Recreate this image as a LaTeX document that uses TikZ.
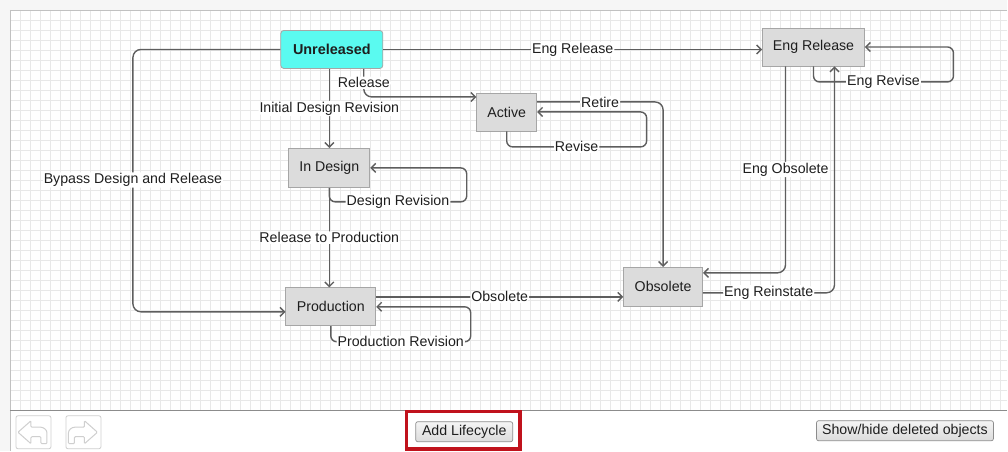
\documentclass[tikz,border=0pt]{standalone}
\usepackage{fontspec}
\setmainfont{Liberation Sans}
\usetikzlibrary{arrows.meta, positioning, calc}
\definecolor{pagegray}{HTML}{F6F6F6}
\definecolor{gridgray}{HTML}{E8E8E8}
\definecolor{edgegray}{HTML}{5E5E5E}
\definecolor{boxfill}{HTML}{DCDCDC}
\definecolor{boxline}{HTML}{A6A6A6}
\definecolor{unrelcyan}{HTML}{5AFAF0}
\definecolor{txtdark}{HTML}{1E1E1E}
\definecolor{hilite}{HTML}{C0121C}
\definecolor{btnline}{HTML}{8C8C8C}
\definecolor{iconline}{HTML}{CFCFCF}
\newcommand\uifont{\fontsize{14.2}{16}\selectfont}
\newcommand\undoshape{(18,432.5) -- (31,421) -- (31,427.5) -- (40,427.5)
  to[out=0,in=90] (47,434) -- (47,444) -- (41,444) -- (41,437) -- (31,437) -- (31,444) -- cycle}

\begin{document}
\begin{tikzpicture}[x=1pt, y=-1pt, >={Straight Barb[length=4.5pt, width=9pt]},
  state/.style={draw=boxline, fill=boxfill, line width=0.8pt, minimum height=38pt,
    inner sep=0pt, font=\uifont, text=txtdark},
  trans/.style={draw=edgegray, line width=1.4pt, ->, rounded corners=6pt},
  lbl/.style={fill=white, inner sep=1pt, font=\uifont, text=txtdark},
  btn/.style={draw=btnline, line width=0.7pt, rounded corners=2pt, top color=white!96!black,
    bottom color=white!86!black, minimum height=20pt, inner sep=0pt, font=\uifont, text=txtdark},
  iconbox/.style={draw=iconline, line width=0.8pt, rounded corners=2pt, minimum width=35pt,
    minimum height=33pt, inner sep=0pt}]

% Page, canvas and grid
\fill[pagegray] (0,0) rectangle (1008,451);
\fill[white] (10,10) rectangle (1008,451);
\foreach \gx in {11,21,...,1001}
  \draw[gridgray, line width=1pt] (\gx,10) -- (\gx,410);
\foreach \gy in {11,21,...,401}
  \draw[gridgray, line width=1pt] (10,\gy) -- (1008,\gy);
\draw[boxline!70, line width=1pt] (10.5,451) -- (10.5,10.5) -- (1008,10.5);
\draw[btnline, line width=1.2pt] (10,410.5) -- (1008,410.5);

% States
\node[state, fill=unrelcyan, rounded corners=3pt, minimum width=102pt,
  font=\fontsize{14.4}{16}\selectfont\bfseries] (unrel) at (332,49.5) {Unreleased};
\node[state, minimum width=102pt] (engrel) at (814,47) {Eng Release};
\node[state, minimum width=60pt] (active) at (507,112) {Active};
\node[state, minimum width=81pt, minimum height=39pt] (indesign) at (329.5,168) {In Design};
\node[state, minimum width=90pt] (production) at (331,307) {Production};
\node[state, minimum width=79pt, minimum height=39pt] (obsolete) at (663.5,287) {Obsolete};

% Corner points of the loops
\coordinate (bypass) at (133,180);
\coordinate (dloop) at (467,202);
\coordinate (ploop) at (471,342);
\coordinate (aloop) at (647,147);
\coordinate (eloop) at (954,82);

% Transitions
\draw[trans] (unrel.east) -- (unrel.east -| engrel.west)
  node[lbl, midway] {Eng Release};
\draw[trans, rounded corners=8pt] ([xshift=32pt]unrel.south) |- ([yshift=15pt]active.west)
  node[lbl, pos=0.25] {Release};
\draw[trans] (indesign.north |- unrel.south) -- (indesign.north)
  node[lbl, midway] {Initial Design Revision};
\draw[trans, rounded corners=8pt] (unrel.west) -| (bypass)
  node[lbl] {Bypass Design and Release} |- ([yshift=-5pt]production.west);
\draw[trans] (indesign.south) -- (indesign.south |- production.north)
  node[lbl, midway] {Release to Production};
\draw[trans] (indesign.south) |- (dloop) node[lbl, pos=0.75] {Design Revision}
  |- (indesign.east);
\draw[trans] (production.south) |- (ploop) node[lbl, pos=0.75] {Production Revision}
  |- (production.east);
\draw[trans] ([yshift=10pt]production.east) -- ([yshift=10pt]production.east -| obsolete.west)
  node[lbl, midway] {Obsolete};
\draw[trans] (active.south) |- (aloop) node[lbl, pos=0.75] {Revise}
  |- (active.east);
\draw[trans, rounded corners=8pt] ([yshift=10pt]active.east) -| (obsolete.north)
  node[lbl, pos=0.25] {Retire};
\draw[trans, rounded corners=8pt] ([xshift=-28pt]engrel.south) |- ([yshift=14pt]obsolete.east)
  node[lbl, pos=0.25] {Eng Obsolete};
\draw[trans, rounded corners=8pt] ([yshift=-6pt]obsolete.east) -| ([xshift=21pt]engrel.south)
  node[lbl, pos=0.25] {Eng Reinstate};
\draw[trans] (engrel.south) |- (eloop) node[lbl, pos=0.75] {Eng Revise}
  |- (engrel.east);

% Toolbar
\node[iconbox] (undo) at (33.5,432.5) {};
\node[iconbox] (redo) at (83.5,432.5) {};
\draw[iconline, line width=1pt, fill=white, rounded corners=1pt] \undoshape;
\begin{scope}[xshift=115.5pt, xscale=-1]
  \draw[iconline, line width=1pt, fill=white, rounded corners=1pt] \undoshape;
\end{scope}
\node[btn, minimum width=97pt] (addlife) at (464.5,432) {Add Lifecycle};
\draw[hilite, line width=3.5pt] (406.5,411.5) rectangle (520.5,449.3);
\node[btn, minimum width=177pt] (showhide) at (905.5,431) {Show/hide deleted objects};

\end{tikzpicture}
\end{document}
